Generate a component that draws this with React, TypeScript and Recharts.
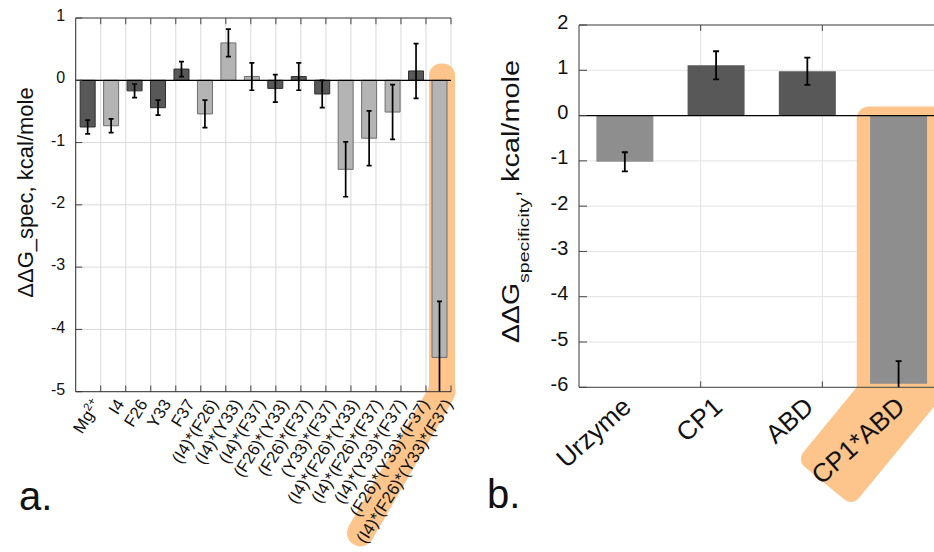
import React from "react";
import {
  BarChart,
  Bar,
  XAxis,
  YAxis,
  CartesianGrid,
  Cell,
  ReferenceLine,
  ReferenceArea,
} from "recharts";

const FONT = '"Liberation Sans", Arial, Helvetica, sans-serif';
const ORANGE = "#fdc58c";

// panel a: single / combined mutant contributions
const mutants = [
  "Mg2+",
  "I4",
  "F26",
  "Y33",
  "F37",
  "(I4)*(F26)",
  "(I4)*(Y33)",
  "(I4)*(F37)",
  "(F26)*(Y33)",
  "(F26)*(F37)",
  "(Y33)*(F37)",
  "(I4)*(F26)*(Y33)",
  "(I4)*(F26)*(F37)",
  "(I4)*(Y33)*(F37)",
  "(F26)*(Y33)*(F37)",
  "(I4)*(F26)*(Y33)*(F37)",
];
const ddgSpec = [-0.75, -0.73, -0.17, -0.44, 0.18, -0.54, 0.6, 0.06, -0.13, 0.06, -0.22, -1.43, -0.93, -0.51, 0.15, -4.45];
const ddgSpecErr = [0.11, 0.11, 0.11, 0.12, 0.12, 0.22, 0.22, 0.22, 0.22, 0.22, 0.22, 0.44, 0.44, 0.44, 0.44, 0.9];
const shadeA = ["dark", "light", "dark", "dark", "dark", "light", "light", "light", "dark", "dark", "dark", "light", "light", "light", "dark", "light"];
const ticksA = [-5, -4, -3, -2, -1, 0, 1];
const boundsA = [0, 1, 2, 3, 4, 5, 6, 7, 8, 9, 10, 11, 12, 13, 14, 15, 16];
const innerA = [1, 2, 3, 4, 5, 6, 7, 8, 9, 10, 11, 12, 13, 14, 15];

// panel b: modules
const modules = ["Urzyme", "CP1", "ABD", "CP1*ABD"];
const ddgSpecificity = [-1.02, 1.11, 0.98, -5.92];
const ddgSpecificityErr = [0.21, 0.31, 0.3, 0.5];
const shadeB = ["mid", "dark", "dark", "mid"];
const ticksB = [-6, -5, -4, -3, -2, -1, 0, 1, 2];
const boundsB = [0, 1, 2, 3, 4];
const innerB = [1, 2, 3];

const FILL: Record<string, string> = { dark: "#585858", light: "#b4b4b4", mid: "#8e8e8e" };
const EDGE: Record<string, string> = { dark: "#2e2e2e", light: "#6e6e6e", mid: "#8e8e8e" };

function roundTop(x0: number, x1: number, yt: number, yb: number, r: number) {
  return `M${x0},${yb} L${x0},${yt + r} A${r},${r} 0 0 1 ${x0 + r},${yt} L${x1 - r},${yt} A${r},${r} 0 0 1 ${x1},${yt + r} L${x1},${yb} Z`;
}

function HighlightA(p: any) {
  const { x, y, width, height } = p;
  const x0 = x + 1.5;
  const x1 = x + width + 4;
  const yb = y + height;
  const cx = (x0 + x1) / 2;
  const a = (60 * Math.PI) / 180;
  const len = 163;
  return (
    <g>
      <path d={roundTop(x0, x1, y, yb, 12)} fill={ORANGE} />
      <line x1={cx} y1={yb} x2={cx - len * Math.cos(a)} y2={yb + len * Math.sin(a)} stroke={ORANGE} strokeWidth={27} strokeLinecap="round" />
    </g>
  );
}

function HighlightB(p: any) {
  const { x, y, width, height } = p;
  const x0 = x + 4;
  const yb = y + height;
  return (
    <g>
      <path d={roundTop(x0, x + width + 30, y, yb, 12)} fill={ORANGE} />
      <rect x={0} y={0} width={200} height={72} rx={10} fill={ORANGE} transform={`translate(${x0 - 60},${yb + 73}) rotate(-50.6)`} />
    </g>
  );
}

// error whisker drawn from a [low, high] range bar so it is clipped to the plot
function whisker(cap: number, sw: number) {
  return (p: any) => {
    const { x, y, width, height } = p;
    const cx = x + width / 2;
    const top = Math.min(y, y + height);
    const bot = Math.max(y, y + height);
    return (
      <g stroke="#000" strokeWidth={sw} fill="none">
        <line x1={cx} x2={cx} y1={top} y2={bot} />
        <line x1={cx - cap} x2={cx + cap} y1={top} y2={top} />
        <line x1={cx - cap} x2={cx + cap} y1={bot} y2={bot} />
      </g>
    );
  };
}
const whiskerA = whisker(2.5, 1.7);
const whiskerB = whisker(3, 1.8);

function MutantTick({ x, y, payload }: any) {
  const ax = x + 9;
  const ay = y + 1;
  const v = payload.value as string;
  return (
    <text x={ax} y={ay} dy="0.35em" textAnchor="end" transform={`rotate(-58 ${ax} ${ay})`} fontSize={16.8} fill="#111" fontFamily={FONT}>
      {v === "Mg2+" ? (
        <>
          Mg<tspan dy={-6} fontSize={11.5}>2+</tspan>
        </>
      ) : (
        v
      )}
    </text>
  );
}

function ModuleTick({ x, y, payload }: any) {
  const ax = x + 2;
  const ay = y + 7;
  return (
    <text x={ax} y={ay} dy="0.35em" textAnchor="end" transform={`rotate(-42 ${ax} ${ay})`} fontSize={26} fill="#111" fontFamily={FONT}>
      {payload.value}
    </text>
  );
}

function ValueTickA({ x, y, payload }: any) {
  return (
    <text x={x} y={y - 2.5} dy="0.35em" textAnchor="end" fontSize={16} fill="#111" fontFamily={FONT}>
      {payload.value}
    </text>
  );
}

function ValueTickB({ x, y, payload }: any) {
  return (
    <text x={x} y={y - 3.5} dy="0.35em" textAnchor="end" fontSize={20} fill="#111" fontFamily={FONT}>
      {payload.value}
    </text>
  );
}

export default function App() {
  const dataA = mutants.map((name, i) => ({
    name,
    value: ddgSpec[i],
    range: [ddgSpec[i] - ddgSpecErr[i], ddgSpec[i] + ddgSpecErr[i]],
  }));
  const dataB = modules.map((name, i) => ({
    name,
    value: ddgSpecificity[i],
    range: [ddgSpecificity[i] - ddgSpecificityErr[i], ddgSpecificity[i] + ddgSpecificityErr[i]],
  }));
  const lastA = mutants[mutants.length - 1];
  const lastB = modules[modules.length - 1];

  return (
    <div style={{ position: "absolute", left: 0, top: 0, width: 934, height: 552, overflow: "hidden", background: "#fff", fontFamily: FONT }}>
      <div style={{ position: "absolute", left: 0, top: 0 }}>
        <BarChart width={470} height={552} data={dataA} margin={{ top: 18, right: 19, bottom: 0, left: 0 }} barCategoryGap="19%">
          <XAxis xAxisId="bnd" type="number" domain={[0, 16]} ticks={boundsA} hide />
          <XAxis xAxisId="err" dataKey="name" hide />
          <CartesianGrid xAxisId="bnd" stroke="#d9d9d9" />
          <ReferenceArea x1={lastA} x2={lastA} y1={-5} y2={0.27} ifOverflow="visible" shape={HighlightA} />
          <Bar dataKey="value" isAnimationActive={false}>
            {dataA.map((d, i) => (
              <Cell key={d.name} fill={FILL[shadeA[i]]} stroke={EDGE[shadeA[i]]} strokeWidth={1} />
            ))}
          </Bar>
          <ReferenceLine y={0} stroke="#000" strokeWidth={1.2} />
          <Bar xAxisId="err" dataKey="range" isAnimationActive={false} shape={whiskerA} />
          <ReferenceLine y={1} stroke="#444" />
          <ReferenceLine xAxisId="bnd" x={16} stroke="#444" />
          {innerA.map((b) => (
            <ReferenceLine key={"ab" + b} xAxisId="bnd" segment={[{ x: b, y: -5 }, { x: b, y: -4.9 }]} stroke="#444" />
          ))}
          {innerA.map((b) => (
            <ReferenceLine key={"at" + b} xAxisId="bnd" segment={[{ x: b, y: 1 }, { x: b, y: 0.9 }]} stroke="#444" />
          ))}
          {ticksA.map((t) => (
            <ReferenceLine key={"al" + t} xAxisId="bnd" segment={[{ x: 0, y: t }, { x: 0.26, y: t }]} stroke="#444" />
          ))}
          {ticksA.map((t) => (
            <ReferenceLine key={"ar" + t} xAxisId="bnd" segment={[{ x: 16, y: t }, { x: 15.74, y: t }]} stroke="#444" />
          ))}
          <XAxis dataKey="name" height={160.3} interval={0} tickLine={false} axisLine={{ stroke: "#333" }} tick={<MutantTick />} />
          <YAxis
            domain={[-5, 1]}
            ticks={ticksA}
            allowDataOverflow
            width={75.7}
            tickLine={false}
            tickMargin={4.5}
            axisLine={{ stroke: "#333" }}
            tick={<ValueTickA />}
            label={(props: any) => {
              const vb = props.viewBox || { x: 0 };
              const lx = vb.x + 33;
              return (
                <text x={lx} y={192.5} textAnchor="middle" transform={`rotate(-90 ${lx} 192.5)`} fontSize={22} fill="#111" fontFamily={FONT}>
                  ΔΔG_spec, kcal/mole
                </text>
              );
            }}
          />
        </BarChart>
      </div>

      <div style={{ position: "absolute", left: 480, top: 0 }}>
        <BarChart width={480} height={552} data={dataB} margin={{ top: 25, right: 16, bottom: 0, left: 0 }} barCategoryGap="19%">
          <XAxis xAxisId="bnd" type="number" domain={[0, 4]} ticks={boundsB} hide />
          <XAxis xAxisId="err" dataKey="name" hide />
          <CartesianGrid xAxisId="bnd" stroke="#e2e2e2" />
          <ReferenceArea x1={lastB} x2={lastB} y1={-6} y2={0.2} ifOverflow="visible" shape={HighlightB} />
          <Bar dataKey="value" isAnimationActive={false}>
            {dataB.map((d, i) => (
              <Cell key={d.name} fill={FILL[shadeB[i]]} />
            ))}
          </Bar>
          <ReferenceLine y={0} stroke="#000" strokeWidth={1.2} />
          <Bar xAxisId="err" dataKey="range" isAnimationActive={false} shape={whiskerB} />
          <ReferenceLine y={2} stroke="#444" />
          {innerB.map((b) => (
            <ReferenceLine key={"bb" + b} xAxisId="bnd" segment={[{ x: b, y: -6 }, { x: b, y: -5.87 }]} stroke="#444" />
          ))}
          {innerB.map((b) => (
            <ReferenceLine key={"bt" + b} xAxisId="bnd" segment={[{ x: b, y: 2 }, { x: b, y: 1.87 }]} stroke="#444" />
          ))}
          {ticksB.map((t) => (
            <ReferenceLine key={"bl" + t} xAxisId="bnd" segment={[{ x: 0, y: t }, { x: 0.066, y: t }]} stroke="#444" />
          ))}
          <XAxis dataKey="name" height={164.7} interval={0} tickLine={false} axisLine={{ stroke: "#444" }} tick={<ModuleTick />} />
          <YAxis
            domain={[-6, 2]}
            ticks={ticksB}
            allowDataOverflow
            width={99}
            tickLine={false}
            tickMargin={4.7}
            axisLine={{ stroke: "#444" }}
            tick={<ValueTickB />}
            label={(props: any) => {
              const vb = props.viewBox || { x: 0 };
              const bx = vb.x + 38.5;
              return (
                <text transform={`translate(${bx},343) rotate(-90)`} fill="#111" fontFamily={FONT}>
                  <tspan x={0} y={0} fontSize={23} textLength={60} lengthAdjust="spacingAndGlyphs">
                    ΔΔG
                  </tspan>
                  <tspan x={60} y={10.5} fontSize={15} textLength={85} lengthAdjust="spacingAndGlyphs">
                    specificity
                  </tspan>
                  <tspan x={146} y={0} fontSize={23}>
                    ,
                  </tspan>
                  <tspan x={161} y={0} fontSize={23} textLength={122} lengthAdjust="spacingAndGlyphs">
                    kcal/mole
                  </tspan>
                </text>
              );
            }}
          />
        </BarChart>
      </div>

      <svg width={934} height={552} style={{ position: "absolute", left: 0, top: 0, pointerEvents: "none" }}>
        <text x={19} y={510} fontSize={40} fill="#111" fontFamily={FONT}>
          a.
        </text>
        <text x={487} y={508} fontSize={40} fill="#111" fontFamily={FONT}>
          b.
        </text>
      </svg>
    </div>
  );
}
